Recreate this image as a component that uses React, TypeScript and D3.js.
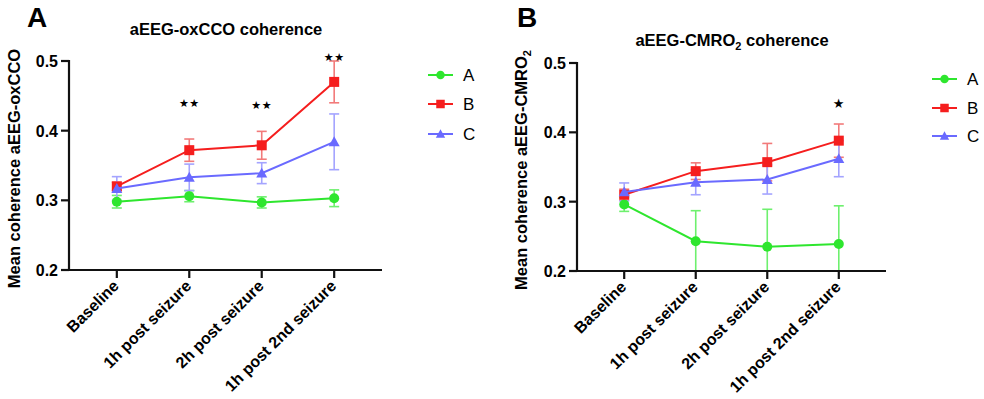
import React from "react";
import * as d3 from "d3";

const timepoints = ["Baseline", "1h post seizure", "2h post seizure", "1h post 2nd seizure"];
const groups = ["A", "B", "C"];
const yTicks = [0.2, 0.3, 0.4, 0.5];

// aEEG-oxCCO coherence: mean and error per group
const oxA = [0.298, 0.306, 0.297, 0.303];
const oxAErr = [0.009, 0.008, 0.008, 0.012];
const oxB = [0.32, 0.372, 0.379, 0.47];
const oxBErr = [0.006, 0.016, 0.02, 0.03];
const oxC = [0.317, 0.333, 0.339, 0.384];
const oxCErr = [0.017, 0.019, 0.015, 0.04];
const oxStars = [0, 2, 2, 2];

// aEEG-CMRO2 coherence: mean and error per group
const cmA = [0.296, 0.243, 0.235, 0.239];
const cmAErr = [0.01, 0.044, 0.054, 0.055];
const cmB = [0.31, 0.344, 0.357, 0.388];
const cmBErr = [0.008, 0.012, 0.027, 0.024];
const cmC = [0.314, 0.328, 0.332, 0.362];
const cmCErr = [0.013, 0.018, 0.021, 0.026];
const cmStars = [0, 0, 0, 1];

const colors = ["#2ee62e", "#f51e1e", "#6a6aff"];
const errColors = ["#6ef06e", "#f27a7a", "#a4a4ff"];
const FONT = "'Liberation Sans', Arial, Helvetica, sans-serif";

type Series = { values: number[]; errs: number[] };

function Marker({ kind, x, y, color, s = 1 }: { kind: number; x: number; y: number; color: string; s?: number }) {
  if (kind === 0) return <circle cx={x} cy={y} r={5 * s} fill={color} />;
  if (kind === 1) return <rect x={x - 5 * s} y={y - 5 * s} width={10 * s} height={10 * s} fill={color} />;
  const h = 5.5 * s;
  return <path d={`M${x},${y - h}L${x + h},${y + h * 0.8}L${x - h},${y + h * 0.8}Z`} fill={color} />;
}

function Panel(props: {
  letter: string;
  letterX: number;
  title: React.ReactNode;
  titleX: number;
  titleY: number;
  yLabel: React.ReactNode;
  yLabelX: number;
  left: number;
  right: number;
  top: number;
  bottom: number;
  series: Series[];
  stars: number[];
  starY: number[];
  starSize: number;
  legendX: number;
  legendY: number[];
}) {
  const { left, right, top, bottom } = props;
  const x = d3.scalePoint<string>().domain(timepoints).range([left, right]).padding(0.66);
  const y = d3.scaleLinear().domain([0.2, 0.5]).range([bottom, top]);
  const line = d3
    .line<number>()
    .x((_, i) => x(timepoints[i]) as number)
    .y((v) => y(v));
  const cap = 5;
  return (
    <g fontFamily={FONT}>
      <text x={props.letterX} y={27} fontSize={28} fontWeight="bold">
        {props.letter}
      </text>
      <text x={props.titleX} y={props.titleY} fontSize={16.5} fontWeight="bold" textAnchor="middle">
        {props.title}
      </text>
      <text
        transform={`translate(${props.yLabelX},${(top + bottom) / 2 + 3}) rotate(-90)`}
        fontSize={16.5}
        fontWeight="bold"
        textAnchor="middle"
      >
        {props.yLabel}
      </text>
      {/* error bars under the lines */}
      {props.series.map((s, gi) => (
        <g key={"e" + gi} stroke={errColors[gi]} strokeWidth={1.6} fill="none">
          {s.values.map((v, i) => {
            const cx = x(timepoints[i]) as number;
            const lo = Math.max(0.2, v - s.errs[i]);
            const hi = v + s.errs[i];
            return (
              <g key={i}>
                <line x1={cx} x2={cx} y1={y(lo)} y2={y(hi)} />
                <line x1={cx - cap} x2={cx + cap} y1={y(hi)} y2={y(hi)} />
                <line x1={cx - cap} x2={cx + cap} y1={y(lo)} y2={y(lo)} />
              </g>
            );
          })}
        </g>
      ))}
      {props.series.map((s, gi) => (
        <g key={"l" + gi}>
          <path d={line(s.values) || ""} fill="none" stroke={colors[gi]} strokeWidth={2} />
          {s.values.map((v, i) => (
            <Marker key={i} kind={gi} x={x(timepoints[i]) as number} y={y(v)} color={colors[gi]} />
          ))}
        </g>
      ))}
      {/* axes */}
      <g stroke="#111" strokeWidth={2.2}>
        <line x1={left} x2={left} y1={top - 1} y2={bottom + 1} />
        <line x1={left} x2={right} y1={bottom} y2={bottom} />
        {yTicks.map((t) => (
          <line key={t} x1={left - 8} x2={left} y1={y(t)} y2={y(t)} />
        ))}
        {timepoints.map((t) => (
          <line key={t} x1={x(t)} x2={x(t)} y1={bottom} y2={bottom + 8} />
        ))}
      </g>
      {yTicks.map((t) => (
        <text key={t} x={left - 11} y={y(t) + 6} fontSize={16} fontWeight="bold" textAnchor="end">
          {d3.format(".1f")(t)}
        </text>
      ))}
      {timepoints.map((t) => (
        <text
          key={t}
          transform={`translate(${(x(t) as number) + 3},${bottom + 17}) rotate(-45)`}
          fontSize={16}
          fontWeight="bold"
          textAnchor="end"
        >
          {t}
        </text>
      ))}
      {props.stars.map((n, i) =>
        n ? (
          <text
            key={i}
            x={x(timepoints[i])}
            y={props.starY[i]}
            fontSize={props.starSize}
            fontFamily="'DejaVu Sans', sans-serif"
            textAnchor="middle"
            letterSpacing={0.5}
          >
            {"\u2605".repeat(n)}
          </text>
        ) : null
      )}
      {groups.map((g, gi) => (
        <g key={g}>
          <line
            x1={props.legendX}
            x2={props.legendX + 25}
            y1={props.legendY[gi]}
            y2={props.legendY[gi]}
            stroke={colors[gi]}
            strokeWidth={2}
          />
          <Marker kind={gi} x={props.legendX + 12.5} y={props.legendY[gi]} color={colors[gi]} s={0.85} />
          <text x={props.legendX + 35} y={props.legendY[gi] + 6} fontSize={17}>
            {g}
          </text>
        </g>
      ))}
    </g>
  );
}

export default function App() {
  return (
    <svg
      width={984}
      height={399}
      style={{ position: "absolute", left: 0, top: 0, display: "block", background: "#fff" }}
    >
      <Panel
        letter="A"
        letterX={27}
        title="aEEG-oxCCO coherence"
        titleX={226}
        titleY={35}
        yLabel="Mean coherence aEEG-oxCCO"
        yLabelX={20}
        left={69}
        right={382}
        top={61}
        bottom={270}
        series={[
          { values: oxA, errs: oxAErr },
          { values: oxB, errs: oxBErr },
          { values: oxC, errs: oxCErr },
        ]}
        stars={oxStars}
        starY={[0, 107, 109, 61]}
        starSize={11}
        legendX={428}
        legendY={[75, 104, 134]}
      />
      <Panel
        letter="B"
        letterX={517}
        title={
          <>
            aEEG-CMRO<tspan fontSize={11} dy={4}>2</tspan>
            <tspan dy={-4}> coherence</tspan>
          </>
        }
        titleX={732}
        titleY={46}
        yLabel={
          <>
            Mean coherence aEEG-CMRO<tspan fontSize={11} dy={4}>2</tspan>
          </>
        }
        yLabelX={527}
        left={577}
        right={886}
        top={63}
        bottom={271}
        series={[
          { values: cmA, errs: cmAErr },
          { values: cmB, errs: cmBErr },
          { values: cmC, errs: cmCErr },
        ]}
        stars={cmStars}
        starY={[0, 0, 0, 108]}
        starSize={13}
        legendX={932}
        legendY={[79, 108, 136]}
      />
    </svg>
  );
}
